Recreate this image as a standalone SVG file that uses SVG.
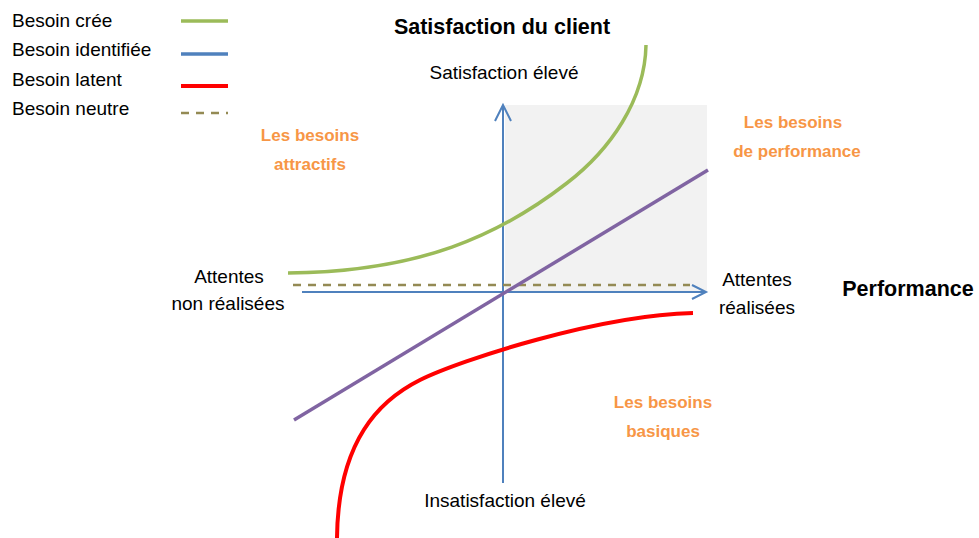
<svg xmlns="http://www.w3.org/2000/svg" width="979" height="538" viewBox="0 0 979 538">
<style>
.t{font-family:"Liberation Sans",Arial,sans-serif;font-size:19px;fill:#000}
.b{font-family:"Liberation Sans",Arial,sans-serif;font-size:21.5px;font-weight:bold;fill:#000}
.o{font-family:"Liberation Sans",Arial,sans-serif;font-size:17px;font-weight:bold;fill:#F79646}
.ax{stroke:#4F81BD;stroke-width:2;fill:none}
.green{stroke:#9BBB59;stroke-width:3.5;fill:none}
.blue{stroke:#4F81BD;stroke-width:3.5;fill:none}
.red{stroke:#FF0000;stroke-width:4;fill:none}
.neutral{stroke:#948A54;stroke-width:2.5;stroke-dasharray:8,7;fill:none}
.purple{stroke:#8064A2;stroke-width:3.5;fill:none}
</style>
<rect width="979" height="538" fill="#fff"/>
<rect id="zone" x="505" y="105" width="202" height="186" fill="#F2F2F2"/>
<g id="legend">
<text class="t" x="12" y="27">Besoin crée</text>
<line class="green" x1="181" y1="21" x2="228" y2="21"/>
<text class="t" x="12" y="56">Besoin identifiée</text>
<line class="blue" x1="181" y1="54" x2="228" y2="54"/>
<text class="t" x="12" y="86">Besoin latent</text>
<line class="red" x1="181" y1="86" x2="228" y2="86"/>
<text class="t" x="12" y="115">Besoin neutre</text>
<line class="neutral" x1="181" y1="113" x2="228" y2="113"/>
</g>
<g id="connectors">
<line class="ax" x1="503" y1="483" x2="503" y2="106"/>
<polyline class="ax" points="495,121 503,105 511,121"/>
<line class="ax" x1="302" y1="292" x2="705" y2="292"/>
<polyline class="ax" points="692,285 706,292 692,299"/>
<line class="neutral" x1="293" y1="285" x2="690" y2="285"/>
<path id="curve-cree" class="green" d="M288,273 C420,272 500,235 567,183 C610,150 645,100 646,45"/>
<path id="curve-latent" class="red" d="M337,538 C338,440 380,400 420,380 C460,360 600,315 693,313"/>
<line id="line-perf" class="purple" x1="294" y1="420" x2="708" y2="170"/>
</g>
<g id="title"><text class="b" x="502" y="34" text-anchor="middle">Satisfaction du client</text></g>
<g id="axis-top"><text class="t" x="504" y="79" text-anchor="middle">Satisfaction élevé</text></g>
<g id="axis-bottom"><text class="t" x="505" y="507" text-anchor="middle">Insatisfaction élevé</text></g>
<g id="axis-left"><text class="t" x="229" y="283" text-anchor="middle">Attentes</text><text class="t" x="228" y="310" text-anchor="middle">non réalisées</text></g>
<g id="axis-right"><text class="t" x="757" y="286" text-anchor="middle">Attentes</text><text class="t" x="757" y="314" text-anchor="middle">réalisées</text></g>
<g id="performance"><text class="b" x="908" y="296" text-anchor="middle">Performance</text></g>
<g id="attractifs"><text class="o" x="310" y="141" text-anchor="middle">Les besoins</text><text class="o" x="310" y="170" text-anchor="middle">attractifs</text></g>
<g id="perf-needs"><text class="o" x="793" y="128" text-anchor="middle">Les besoins</text><text class="o" x="797" y="157" text-anchor="middle">de performance</text></g>
<g id="basiques"><text class="o" x="663" y="408" text-anchor="middle">Les besoins</text><text class="o" x="663" y="437" text-anchor="middle">basiques</text></g>
</svg>
